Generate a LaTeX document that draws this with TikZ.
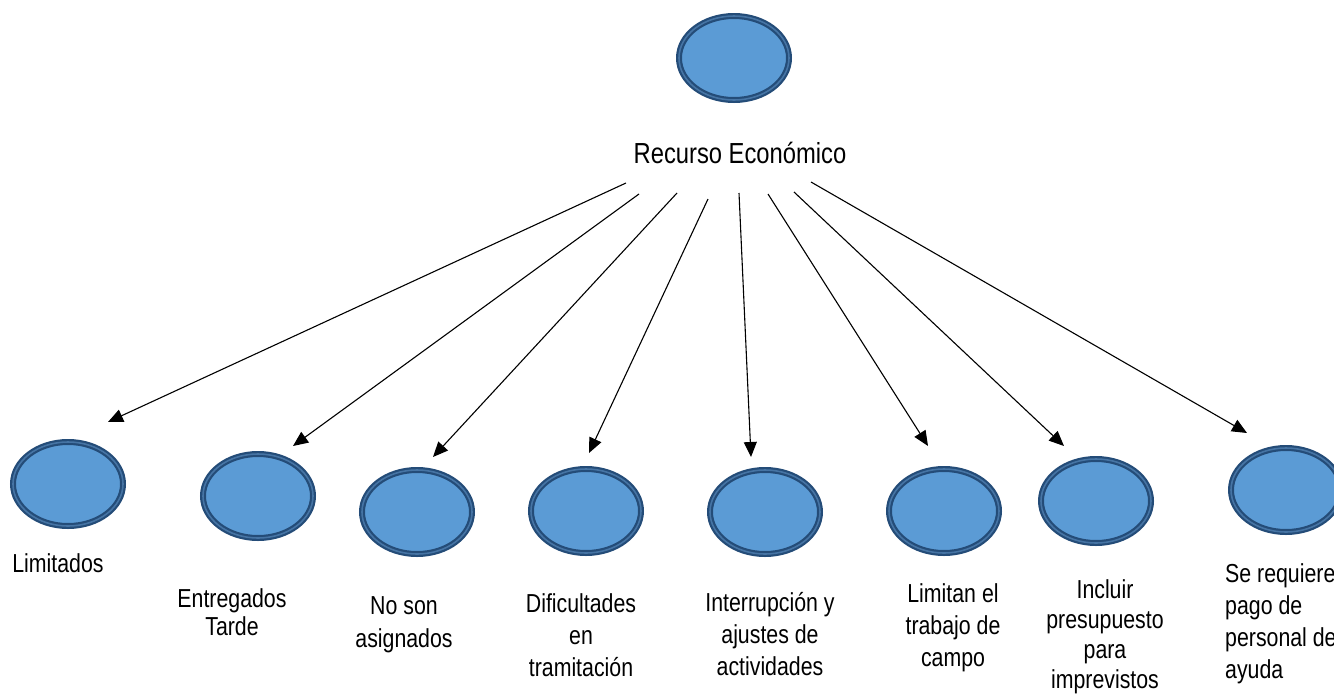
\documentclass[tikz,border=0pt]{standalone}
\usepackage{fontspec}
\setmainfont{Liberation Sans}[FakeStretch=0.82]
\usetikzlibrary{arrows.meta, shapes.geometric}

\definecolor{azulRelleno}{RGB}{91,155,213}
\definecolor{azulBorde}{RGB}{36,76,120}
\definecolor{azulMedio}{RGB}{70,116,164}

\begin{document}
\begin{tikzpicture}[x=1pt, y=-1pt,
  burbuja/.style={ellipse, fill=azulRelleno, draw=azulBorde, double=azulMedio,
    line width=2.2pt, double distance=1.6pt,
    minimum width=110pt, minimum height=84pt, inner sep=0pt},
  etiqueta/.style={font=\fontsize{26}{32}\selectfont, align=center, anchor=base, inner sep=0pt},
  flecha/.style={-{Triangle[length=15pt,width=13pt]}, line width=1.1pt}]

  % marco de la figura
  \useasboundingbox (0,0) rectangle (1334,694);

  % burbuja superior y su texto
  \node[burbuja] (raiz) at (734,58) {};
  \node[etiqueta, font=\fontsize{29}{32}\selectfont] (recurso) at (740,163) {Recurso Económico};

  % burbujas inferiores
  \foreach \nombre/\x/\y in {lim/68/484, ent/258/496, noson/417/512, dif/586/511,
      inte/765/512, limitan/944/511, inc/1096/501, sereq/1286/490} {
    \node[burbuja] (\nombre) at (\x,\y) {};
  }

  % textos de las burbujas inferiores (base = ultima linea)
  \node[etiqueta] (tlim) at (58,572) {Limitados};
  \node[etiqueta, font=\fontsize{26}{28}\selectfont] (tent) at (232,635) {Entregados\\Tarde};
  \node[etiqueta, font=\fontsize{26}{33}\selectfont] (tnoson) at (404,647) {No son\\asignados};
  \node[etiqueta] (tdif) at (581,676) {Dificultades\\en\\tramitación};
  \node[etiqueta] (tinte) at (770,675) {Interrupción y\\ajustes de\\actividades};
  \node[etiqueta] (tlimitan) at (953,666) {Limitan el\\trabajo de\\campo};
  \node[etiqueta, font=\fontsize{26}{30}\selectfont] (tinc) at (1105,688) {Incluir\\presupuesto\\para\\imprevistos};
  \node[etiqueta, align=left, anchor=base west] (tsereq) at (1225,678) {Se requiere\\pago de\\personal de\\ayuda};

  % flechas desde el recurso hacia cada burbuja
  \foreach \i/\sx/\sy/\tx/\ty in {1/626/183/108/422, 2/639/194/293/446, 3/677/193/433/457,
      4/708/199/589/453, 5/739/193/751/457, 6/768/194/928/446,
      7/794/192/1064/446, 8/811/182/1247/433} {
    \coordinate (o\i) at (\sx,\sy);
    \coordinate (p\i) at (\tx,\ty);
    \draw[flecha] (o\i) -- (p\i);
  }
\end{tikzpicture}
\end{document}
